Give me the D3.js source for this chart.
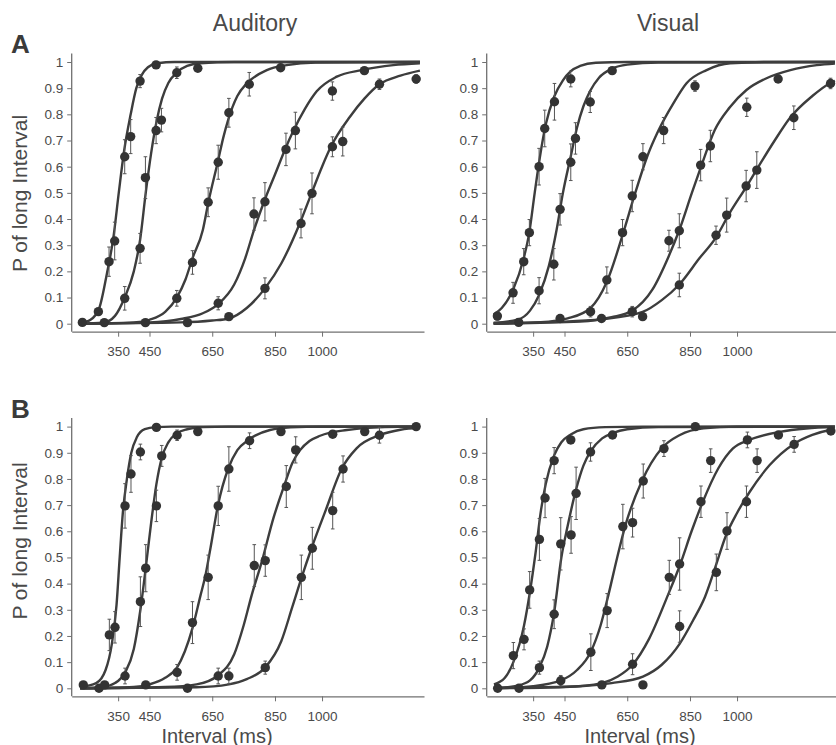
<!DOCTYPE html>
<html>
<head>
<meta charset="utf-8">
<script src="https://cdn.jsdelivr.net/npm/d3@7"></script>
<style>
  body { margin: 0; background: #fff; }
  svg { display: block; }
</style>
</head>
<body>
<svg id="chart" width="836" height="745"></svg>
<script>
let font = "Liberation Sans, Arial, sans-serif"

// tick labels
const xTicks = [350, 450, 650, 850, 1000];
const yTicks = [0, 0.1, 0.2, 0.3, 0.4, 0.5, 0.6, 0.7, 0.8, 0.9, 1];
const rowLabels = ["A", "B"];
const modalities = ["Auditory", "Visual"];

// data points: [interval ms, P(long), error bar half length]
const audA_pts = [
  [[236,0.005,0],[287,0.046,0],[321,0.237,0.056],[339,0.316,0.072],[371,0.638,0.065],[390,0.715,0.065],[420,0.927,0.025],[471,0.989,0.01]],
  [[306,0.004,0],[371,0.097,0.045],[420,0.288,0.057],[437,0.558,0.08],[471,0.738,0.05],[488,0.778,0.045],[537,0.959,0.022],[604,0.976,0.01]],
  [[437,0.004,0],[537,0.097,0.03],[587,0.234,0.045],[637,0.464,0.055],[669,0.617,0.065],[703,0.806,0.055],[768,0.915,0.045],[868,0.978,0.01]],
  [[571,0.004,0],[669,0.078,0.025],[783,0.419,0.062],[818,0.466,0.073],[885,0.666,0.062],[915,0.738,0.07],[1033,0.889,0.035],[1135,0.967,0.01]],
  [[703,0.027,0.01],[818,0.135,0.04],[933,0.383,0.055],[968,0.498,0.078],[1033,0.676,0.038],[1066,0.696,0.055],[1183,0.915,0.02],[1300,0.935,0.016]]
];
const visA_pts = [
  [[236,0.029,0.015],[286,0.118,0.04],[320,0.237,0.05],[338,0.348,0.05],[369,0.6,0.07],[387,0.746,0.07],[418,0.848,0.07],[470,0.935,0.03]],
  [[304,0.005,0],[369,0.126,0.05],[416,0.227,0.06],[436,0.437,0.06],[470,0.617,0.07],[485,0.708,0.06],[532,0.847,0.04],[602,0.967,0.01]],
  [[436,0.02,0.01],[533,0.046,0.02],[585,0.167,0.05],[635,0.348,0.05],[666,0.488,0.06],[700,0.638,0.05],[766,0.738,0.05],[866,0.908,0.02]],
  [[568,0.02,0.01],[666,0.046,0.02],[783,0.317,0.04],[816,0.355,0.065],[884,0.606,0.06],[915,0.679,0.06],[1031,0.827,0.035],[1131,0.935,0.01]],
  [[699,0.027,0.01],[816,0.148,0.045],[933,0.338,0.035],[967,0.415,0.065],[1029,0.526,0.06],[1063,0.587,0.07],[1181,0.787,0.045],[1298,0.918,0.02]]
];
const audB_pts = [
  [[239,0.013,0],[289,0,0],[322,0.204,0.06],[340,0.233,0.06],[372,0.697,0.085],[391,0.819,0.07],[421,0.903,0.03],[472,0.997,0]],
  [[307,0.013,0],[372,0.047,0.03],[421,0.331,0.095],[438,0.459,0.09],[472,0.697,0.06],[489,0.888,0.04],[538,0.967,0.02],[604,0.981,0]],
  [[438,0.013,0],[538,0.061,0.03],[587,0.251,0.08],[637,0.424,0.085],[669,0.697,0.075],[703,0.838,0.085],[769,0.946,0.03],[869,0.981,0]],
  [[571,0,0],[669,0.047,0.03],[784,0.469,0.08],[819,0.488,0.06],[886,0.771,0.08],[916,0.911,0.05],[1034,0.971,0],[1136,0.981,0]],
  [[703,0.047,0.03],[819,0.079,0.025],[934,0.424,0.085],[969,0.535,0.08],[1034,0.679,0.07],[1067,0.838,0.05],[1183,0.967,0.03],[1300,1.0,0]]
];
const visB_pts = [
  [[237,0,0],[287,0.125,0.05],[321,0.187,0.04],[339,0.376,0.07],[370,0.569,0.08],[388,0.727,0.075],[417,0.87,0.05],[470,0.949,0]],
  [[305,0,0],[370,0.079,0.025],[417,0.283,0.055],[438,0.552,0.1],[471,0.586,0.07],[487,0.745,0.1],[533,0.903,0.035],[603,0.968,0]],
  [[438,0.029,0.02],[534,0.138,0.07],[586,0.297,0.065],[636,0.618,0.085],[667,0.633,0.055],[701,0.792,0.065],[767,0.916,0.03],[867,1.0,0]],
  [[569,0.013,0],[667,0.092,0.04],[784,0.424,0.065],[817,0.475,0.1],[885,0.713,0.06],[916,0.87,0.045],[1033,0.949,0.03],[1132,0.968,0]],
  [[700,0.013,0],[817,0.236,0.06],[934,0.443,0.07],[968,0.601,0.07],[1030,0.713,0.06],[1064,0.87,0.045],[1182,0.932,0.03],[1299,0.983,0]]
];

// fitted psychometric curves: [interval ms, P(long)]
const audA_fit = [
  [[229,0.002],[262,0.015],[290,0.06],[314,0.19],[335,0.33],[352,0.5],[369,0.66],[390,0.8],[408,0.9],[425,0.95],[445,0.98],[475,0.995],[530,1],[1312,1]],
  [[229,0],[303,0.004],[340,0.03],[371,0.1],[400,0.2],[420,0.32],[438,0.5],[455,0.65],[472,0.77],[490,0.86],[510,0.92],[537,0.96],[570,0.985],[611,0.995],[720,1],[1312,1]],
  [[229,0],[400,0.005],[450,0.015],[500,0.045],[537,0.1],[565,0.17],[587,0.25],[620,0.358],[638,0.466],[668,0.62],[685,0.71],[701,0.78],[730,0.87],[760,0.918],[824,0.969],[887,0.988],[980,0.998],[1312,1]],
  [[229,0],[450,0.005],[550,0.018],[620,0.04],[669,0.075],[720,0.15],[755,0.25],[783,0.358],[815,0.466],[850,0.57],[882,0.666],[909,0.738],[945,0.82],[983,0.888],[1047,0.944],[1126,0.969],[1227,0.988],[1312,0.995]],
  [[229,0],[550,0.005],[650,0.012],[703,0.02],[760,0.06],[818,0.135],[870,0.23],[930,0.386],[967,0.5],[1000,0.6],[1028,0.676],[1089,0.791],[1135,0.86],[1183,0.915],[1250,0.948],[1312,0.967]]
];
const visA_fit = [
  [[224,0.035],[250,0.06],[286,0.13],[320,0.25],[338,0.35],[355,0.5],[372,0.64],[390,0.76],[418,0.87],[445,0.93],[470,0.965],[500,0.985],[550,0.997],[650,1],[1312,1]],
  [[224,0.003],[300,0.015],[340,0.05],[369,0.11],[400,0.22],[425,0.36],[445,0.5],[470,0.64],[490,0.75],[510,0.83],[532,0.89],[560,0.94],[602,0.975],[650,0.99],[750,0.998],[1312,1]],
  [[224,0],[400,0.008],[460,0.02],[533,0.06],[585,0.16],[638,0.35],[673,0.49],[714,0.64],[749,0.737],[797,0.842],[839,0.919],[903,0.969],[978,0.995],[1100,1],[1312,1]],
  [[224,0],[500,0.008],[600,0.025],[666,0.05],[730,0.13],[783,0.26],[816,0.358],[856,0.5],[887,0.606],[929,0.74],[977,0.827],[1030,0.893],[1094,0.938],[1170,0.969],[1254,0.988],[1312,0.994]],
  [[224,0.003],[450,0.008],[568,0.017],[699,0.045],[760,0.09],[816,0.15],[880,0.25],[933,0.33],[975,0.42],[1031,0.526],[1063,0.59],[1120,0.7],[1169,0.787],[1240,0.87],[1296,0.919],[1312,0.928]]
];
const audB_fit = [
  [[229,0.005],[280,0.02],[310,0.07],[330,0.17],[345,0.32],[355,0.5],[365,0.67],[378,0.8],[392,0.9],[410,0.96],[435,0.99],[470,0.998],[520,1],[1312,1]],
  [[229,0],[300,0.005],[340,0.02],[372,0.06],[400,0.15],[421,0.3],[440,0.48],[455,0.63],[472,0.78],[489,0.88],[510,0.94],[538,0.975],[570,0.99],[620,0.998],[700,1],[1312,1]],
  [[229,0],[400,0.005],[450,0.015],[500,0.04],[538,0.08],[587,0.23],[613,0.357],[627,0.424],[645,0.54],[668,0.698],[701,0.84],[730,0.91],[765,0.949],[834,0.987],[900,0.997],[1000,1],[1312,1]],
  [[229,0],[500,0.005],[600,0.015],[669,0.05],[720,0.13],[750,0.24],[776,0.357],[808,0.484],[845,0.65],[879,0.773],[905,0.86],[930,0.91],[960,0.945],[994,0.965],[1079,0.987],[1200,0.998],[1312,1]],
  [[229,0],[600,0.004],[703,0.015],[760,0.035],[819,0.08],[870,0.18],[905,0.31],[935,0.424],[967,0.537],[1010,0.675],[1063,0.84],[1110,0.917],[1185,0.968],[1250,0.988],[1312,0.995]]
];
const visB_fit = [
  [[225,0.015],[260,0.04],[287,0.1],[321,0.24],[340,0.37],[358,0.52],[375,0.68],[390,0.78],[417,0.89],[440,0.94],[470,0.97],[510,0.99],[580,0.998],[700,1],[1312,1]],
  [[225,0],[300,0.01],[340,0.03],[370,0.08],[395,0.16],[417,0.29],[440,0.5],[460,0.62],[487,0.76],[510,0.85],[533,0.905],[570,0.955],[603,0.975],[650,0.99],[750,0.998],[1312,1]],
  [[225,0],[350,0.008],[438,0.03],[490,0.07],[534,0.14],[565,0.24],[590,0.357],[618,0.5],[643,0.618],[696,0.79],[760,0.917],[818,0.968],[893,0.993],[1000,1],[1312,1]],
  [[225,0],[450,0.005],[569,0.02],[620,0.045],[667,0.09],[720,0.19],[780,0.357],[819,0.474],[855,0.6],[891,0.713],[940,0.84],[987,0.917],[1038,0.949],[1136,0.98],[1220,0.993],[1312,0.998]],
  [[225,0.002],[500,0.008],[600,0.02],[700,0.045],[760,0.09],[817,0.17],[860,0.26],[898,0.35],[930,0.46],[965,0.585],[1000,0.67],[1040,0.75],[1104,0.853],[1179,0.932],[1240,0.968],[1296,0.987],[1312,0.99]]
];

const panelPts = [[audA_pts, visA_pts], [audB_pts, visB_pts]];
const panelFit = [[audA_fit, visA_fit], [audB_fit, visB_fit]];

let svg = d3.select("#chart");
let textFarbe = "#4a4a4a";
let achsenFarbe = "#707070";
let kurvenFarbe = "#3d3d3d";

function zeichnePanel(row, col) {
    let ox = col * 415;       // horizontaler Versatz Visual
    let oy = row * 364.6;     // vertikaler Versatz Zeile B

    let x = d3.scaleLinear().domain([202, 1325]).range([71.7 + ox, 424 + ox]);
    let y = d3.scaleLinear().domain([0, 1]).range([323.7 + oy, 62 + oy]);
    let xAxisY = y(0) + 8;
    let yAxisX = x(202);

    let g = svg.append("g");

    // x Achse
    let xa = g.append("g")
        .attr("transform", "translate(0," + xAxisY + ")")
        .call(d3.axisBottom(x).tickValues(xTicks).tickFormat(d3.format("d"))
            .tickSize(5).tickSizeOuter(0).tickPadding(10));
    xa.select(".domain").attr("stroke", achsenFarbe).attr("stroke-width", 1.3);
    xa.selectAll(".tick line").attr("stroke", achsenFarbe).attr("stroke-width", 1);
    xa.selectAll(".tick text").attr("font-family", font).attr("font-size", "13.5px").attr("fill", textFarbe);

    // y Achse
    let ya = g.append("g")
        .attr("transform", "translate(" + yAxisX + ",0)")
        .call(d3.axisLeft(y).tickValues(yTicks)
            .tickFormat(d => (d === 0 || d === 1) ? String(d) : d.toFixed(1))
            .tickSize(4.5).tickPadding(4).tickSizeOuter(0));
    ya.select(".domain").remove();
    ya.selectAll(".tick line").attr("stroke", achsenFarbe).attr("stroke-width", 1);
    ya.selectAll(".tick text").attr("font-family", font).attr("font-size", "13.5px").attr("fill", textFarbe);
    g.append("line")
        .attr("x1", yAxisX).attr("x2", yAxisX)
        .attr("y1", y(1) - 8.5).attr("y2", xAxisY)
        .attr("stroke", achsenFarbe).attr("stroke-width", 1.3);

    // Kurven
    let linie = d3.line()
        .x(d => x(d[0]))
        .y(d => y(d[1]))
        .curve(d3.curveMonotoneX);
    g.selectAll(".fit").data(panelFit[row][col]).enter().append("path")
        .attr("class", "fit")
        .attr("d", linie)
        .attr("fill", "none")
        .attr("stroke", kurvenFarbe)
        .attr("stroke-width", 2.4);

    let punkte = panelPts[row][col].flat();

    // Fehlerbalken
    let eb = g.selectAll(".err").data(punkte.filter(d => d[2] > 0)).enter().append("g")
        .attr("class", "err")
        .attr("stroke", "#555")
        .attr("stroke-width", 1);
    eb.append("line")
        .attr("x1", d => x(d[0])).attr("x2", d => x(d[0]))
        .attr("y1", d => y(d[1] - d[2])).attr("y2", d => y(d[1] + d[2]));
    eb.append("line")
        .attr("x1", d => x(d[0]) - 1.8).attr("x2", d => x(d[0]) + 1.8)
        .attr("y1", d => y(d[1] + d[2])).attr("y2", d => y(d[1] + d[2]));
    eb.append("line")
        .attr("x1", d => x(d[0]) - 1.8).attr("x2", d => x(d[0]) + 1.8)
        .attr("y1", d => y(d[1] - d[2])).attr("y2", d => y(d[1] - d[2]));

    // Punkte
    g.selectAll(".pt").data(punkte).enter().append("circle")
        .attr("class", "pt")
        .attr("cx", d => x(d[0]))
        .attr("cy", d => y(d[1]))
        .attr("r", 4.7)
        .attr("fill", "#333");

    // y Beschriftung (nur links)
    if (col === 0) {
        g.append("text")
            .attr("transform", "translate(27," + (row === 0 ? 193.5 : 541) + ") rotate(-90)")
            .attr("text-anchor", "middle")
            .attr("font-family", font)
            .attr("font-size", "21px")
            .attr("fill", textFarbe)
            .text("P of long Interval");
    }
    // x Beschriftung (nur Zeile B)
    if (row === 1) {
        g.append("text")
            .attr("x", col === 0 ? 217 : 640)
            .attr("y", 742.5)
            .attr("text-anchor", "middle")
            .attr("font-family", font)
            .attr("font-size", "20px")
            .attr("fill", textFarbe)
            .text("Interval (ms)");
    }
}

for (let r = 0; r < 2; r++) {
    for (let c = 0; c < 2; c++) {
        zeichnePanel(r, c);
    }
}

// Titel oben
svg.selectAll(".titel").data(modalities).enter().append("text")
    .attr("class", "titel")
    .attr("x", (d, i) => i === 0 ? 255 : 668)
    .attr("y", 31)
    .attr("text-anchor", "middle")
    .attr("font-family", font)
    .attr("font-size", "23px")
    .attr("fill", textFarbe)
    .text(d => d);

// Panel Buchstaben
svg.selectAll(".buchstabe").data(rowLabels).enter().append("text")
    .attr("class", "buchstabe")
    .attr("x", 11)
    .attr("y", (d, i) => i === 0 ? 53 : 418)
    .attr("font-family", font)
    .attr("font-weight", "bold")
    .attr("font-size", "26px")
    .attr("fill", "#3a3a3a")
    .text(d => d);
</script>
</body>
</html>
